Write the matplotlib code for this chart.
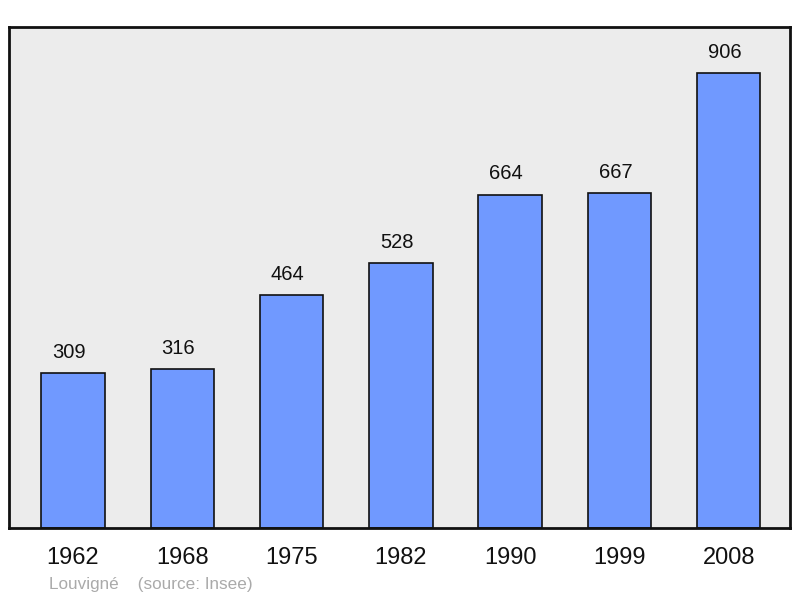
import matplotlib.pyplot as plt

years = ["1962", "1968", "1975", "1982", "1990", "1999", "2008"]
population = [309, 316, 464, 528, 664, 667, 906]

plt.rcParams['font.family'] = ['Liberation Sans', 'DejaVu Sans']

fig = plt.figure(figsize=(8, 5.98), dpi=100)
ax = fig.add_axes([9 / 800, 70 / 598, 781 / 800, 501 / 598])
ax.set_facecolor('#ececec')

x = range(len(years))
ax.bar(x, population, width=0.58, color='#7099ff', edgecolor='#111111', linewidth=1.2, zorder=2)

for i, v in enumerate(population):
    ax.annotate(str(v), (i, v), xytext=(-3, 15), textcoords='offset points',
                ha='center', va='center', fontsize=14.5, color='#111111')

ax.set_xlim(-0.585, 6.56)
ax.set_ylim(0, 998)
ax.set_xticks(list(x))
ax.set_xticklabels(years, fontsize=17, color='#111111')
ax.tick_params(axis='x', length=0, pad=14)
ax.set_yticks([])
for s in ax.spines.values():
    s.set_linewidth(2)
    s.set_color('#111111')

fig.text(49 / 800, 1 - 584 / 598, "Louvigné    (source: Insee)", fontsize=12.3,
         color='#aaaaaa', va='center', ha='left')

fig.savefig('out.png', dpi=100)
